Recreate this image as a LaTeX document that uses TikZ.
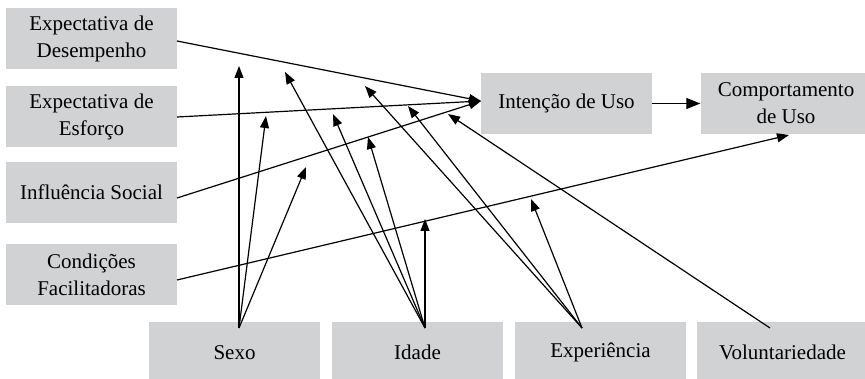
\documentclass[tikz,border=0pt]{standalone}
\usepackage{fontspec}
\setmainfont{Liberation Serif}
\usetikzlibrary{arrows.meta}
\definecolor{boxgray}{HTML}{D1D2D4}
\begin{document}
\begin{tikzpicture}[x=1pt,y=-1pt,
  box/.style={fill=boxgray, draw=none, minimum width=171pt, minimum height=61pt,
    inner sep=0pt, align=center, font=\fontsize{21}{27}\selectfont},
  conn/.style={line width=1.2pt, -{Triangle[length=12pt,width=9pt]}},
  seg/.style={line width=1.2pt}]
\useasboundingbox (0,0) rectangle (865,379);
% boxes
\node[box] (ED) at (91.5,39) {Expectativa de\\Desempenho};
\node[box] (EE) at (91.5,117) {Expectativa de\\Esforço};
\node[box] (IS) at (91.5,192.5) {Influência Social};
\node[box] (CF) at (91.5,275) {Condições\\Facilitadoras};
\node[box] (IU) at (566.5,103.5) {Intenção de Uso};
\node[box] (CU) at (786,103.5) {Comportamento\\de Uso};
\node[box] (SX) at (234.5,352.5) {Sexo};
\node[box] (ID) at (417.5,352.5) {Idade};
\node[box] (EX) at (600.5,352.5) {Experiência};
\node[box] (VO) at (782.5,352.5) {Voluntariedade};
% connection points
\coordinate (edo) at (177,41);
\coordinate (eeo) at (177,117);
\coordinate (iso) at (177,198);
\coordinate (cfo) at (177,280);
\coordinate (iui) at (481,101);
\coordinate (cui) at (789,135);
\coordinate (sxo) at (239,328);
\coordinate (ido) at (425,328);
\coordinate (exo) at (582,328);
\coordinate (voo) at (770,328);
% moderator tips
\coordinate (t1) at (239,66);
\coordinate (t2) at (266,116);
\coordinate (t3) at (306,167);
\coordinate (t4) at (285,72);
\coordinate (t5) at (333,114);
\coordinate (t6) at (368,137);
\coordinate (t7) at (425,219);
\coordinate (t8) at (365,86);
\coordinate (t9) at (408,106);
\coordinate (t10) at (531,199);
\coordinate (t11) at (448,114);
% main paths
\draw[conn] (edo) -- (iui);
\draw[conn] (eeo) -- (iui);
\draw[conn] (iso) -- (iui);
\draw[conn] (cfo) -- (cui);
\draw[line width=1.2pt, -{Triangle[length=14pt,width=11pt]}] (IU.east) -- (CU.west);
% moderators
\draw[conn] (sxo) -- (t1);
\draw[conn] (sxo) -- (t2);
\draw[conn] (sxo) -- (t3);
\draw[conn] (ido) -- (t4);
\draw[conn] (ido) -- (t5);
\draw[conn] (ido) -- (t6);
\draw[conn] (ido) -- (t7);
\draw[conn] (exo) -- (t8);
\draw[conn] (exo) -- (t9);
\draw[conn] (exo) -- (t10);
\draw[conn] (voo) -- (t11);
\end{tikzpicture}
\end{document}
